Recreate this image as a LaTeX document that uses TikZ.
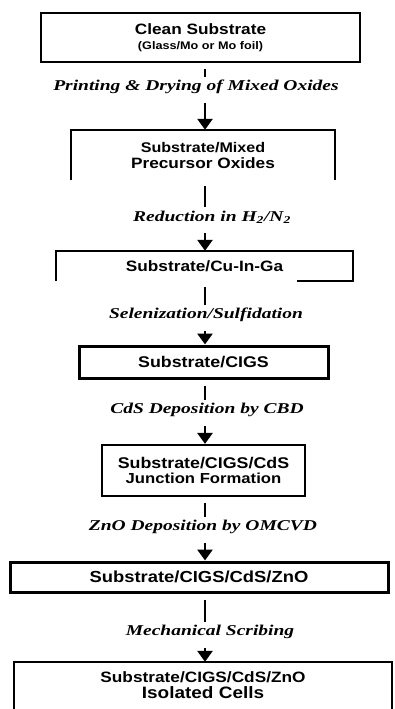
\documentclass[tikz,border=0pt]{standalone}
\usepackage{fontspec}
\usetikzlibrary{arrows.meta}
\newfontfamily\boxfont[FakeStretch=1.15]{Liberation Sans}
\newfontfamily\stepfont[FakeStretch=1.3]{Liberation Serif}
\newcommand{\fsz}[1]{\fontsize{#1}{#1}\selectfont}

\begin{document}
\begin{tikzpicture}[x=1pt,y=-1pt,
    box/.style={draw,line width=2.2pt,inner sep=0pt,align=center,font=\boxfont\bfseries},
    openbox/.style={inner sep=0pt,align=center,font=\boxfont\bfseries},
    stepname/.style={inner sep=0pt,minimum height=20pt,font=\stepfont\bfseries\itshape\fsz{15}},
    stub/.style={line width=2.8pt,shorten <=6pt},
    down/.style={line width=2.8pt,shorten <=6pt,-{Triangle[width=15pt,length=11pt]}}]
  \useasboundingbox (0,0) rectangle (395,709);
  \coordinate (axis) at (205,0);
  % process steps
  \node[box,minimum width=319pt,minimum height=49pt] (clean) at (200.5,37.5)
    {{\fsz{15}Clean Substrate}\\[3pt]{\fsz{11}(Glass/Mo or Mo foil)}};
  \node[openbox,minimum width=264pt,minimum height=50pt] (prec) at (203,155)
    {{\fsz{14}Substrate/Mixed}\\[4pt]{\fsz{15}Precursor Oxides}};
  \node[openbox,minimum width=297pt,minimum height=30pt] (cuinga) at (204.5,266)
    {\fsz{15}Substrate/Cu-In-Ga};
  \node[box,line width=3pt,minimum width=249pt,minimum height=32pt] (cigs) at (203.5,362)
    {\fsz{15.5}Substrate/CIGS};
  \node[box,minimum width=203pt,minimum height=51pt] (cds) at (203.5,470.5)
    {{\fsz{15.5}Substrate/CIGS/CdS}\\[3pt]{\fsz{14.5}Junction Formation}};
  \node[box,line width=3pt,minimum width=378pt,minimum height=30pt] (zno) at (199,577)
    {\fsz{16}Substrate/CIGS/CdS/ZnO};
  \node[openbox,minimum width=378pt,minimum height=47pt] (cells) at (203,685.5)
    {{\fsz{15}Substrate/CIGS/CdS/ZnO}\\[3pt]{\fsz{16.5}Isolated Cells}};
  \draw[line width=2.2pt] (prec.south west) -- (prec.north west) -- (prec.north east) -- (prec.south east);
  \draw[line width=2.2pt] (cuinga.south west) -- (cuinga.north west) -- (cuinga.north east) -- (cuinga.south east)
    -- ([xshift=-56pt]cuinga.south east);
  \draw[line width=2.2pt] (cells.south west) -- (cells.north west) -- (cells.north east) -- (cells.south east);
  % treatments
  \node[stepname] (print) at (196,87) {Printing \& Drying of Mixed Oxides};
  \node[stepname] (reduce) at (212,217) {Reduction in H\textsubscript{2}/N\textsubscript{2}};
  \node[stepname] (selen) at (206,315) {Selenization/Sulfidation};
  \node[stepname] (cbd) at (207,410) {CdS Deposition by CBD};
  \node[stepname] (omcvd) at (203,527) {ZnO Deposition by OMCVD};
  \node[stepname] (scribe) at (210,632) {Mechanical Scribing};
  \foreach \a/\b/\c in {clean/print/prec,prec/reduce/cuinga,cuinga/selen/cigs,
      cigs/cbd/cds,cds/omcvd/zno,zno/scribe/cells} {
    \draw[stub] (\a.south -| axis) -- (\b.north -| axis);
    \draw[down] (\b.south -| axis) -- (\c.north -| axis);
  }
\end{tikzpicture}
\end{document}
